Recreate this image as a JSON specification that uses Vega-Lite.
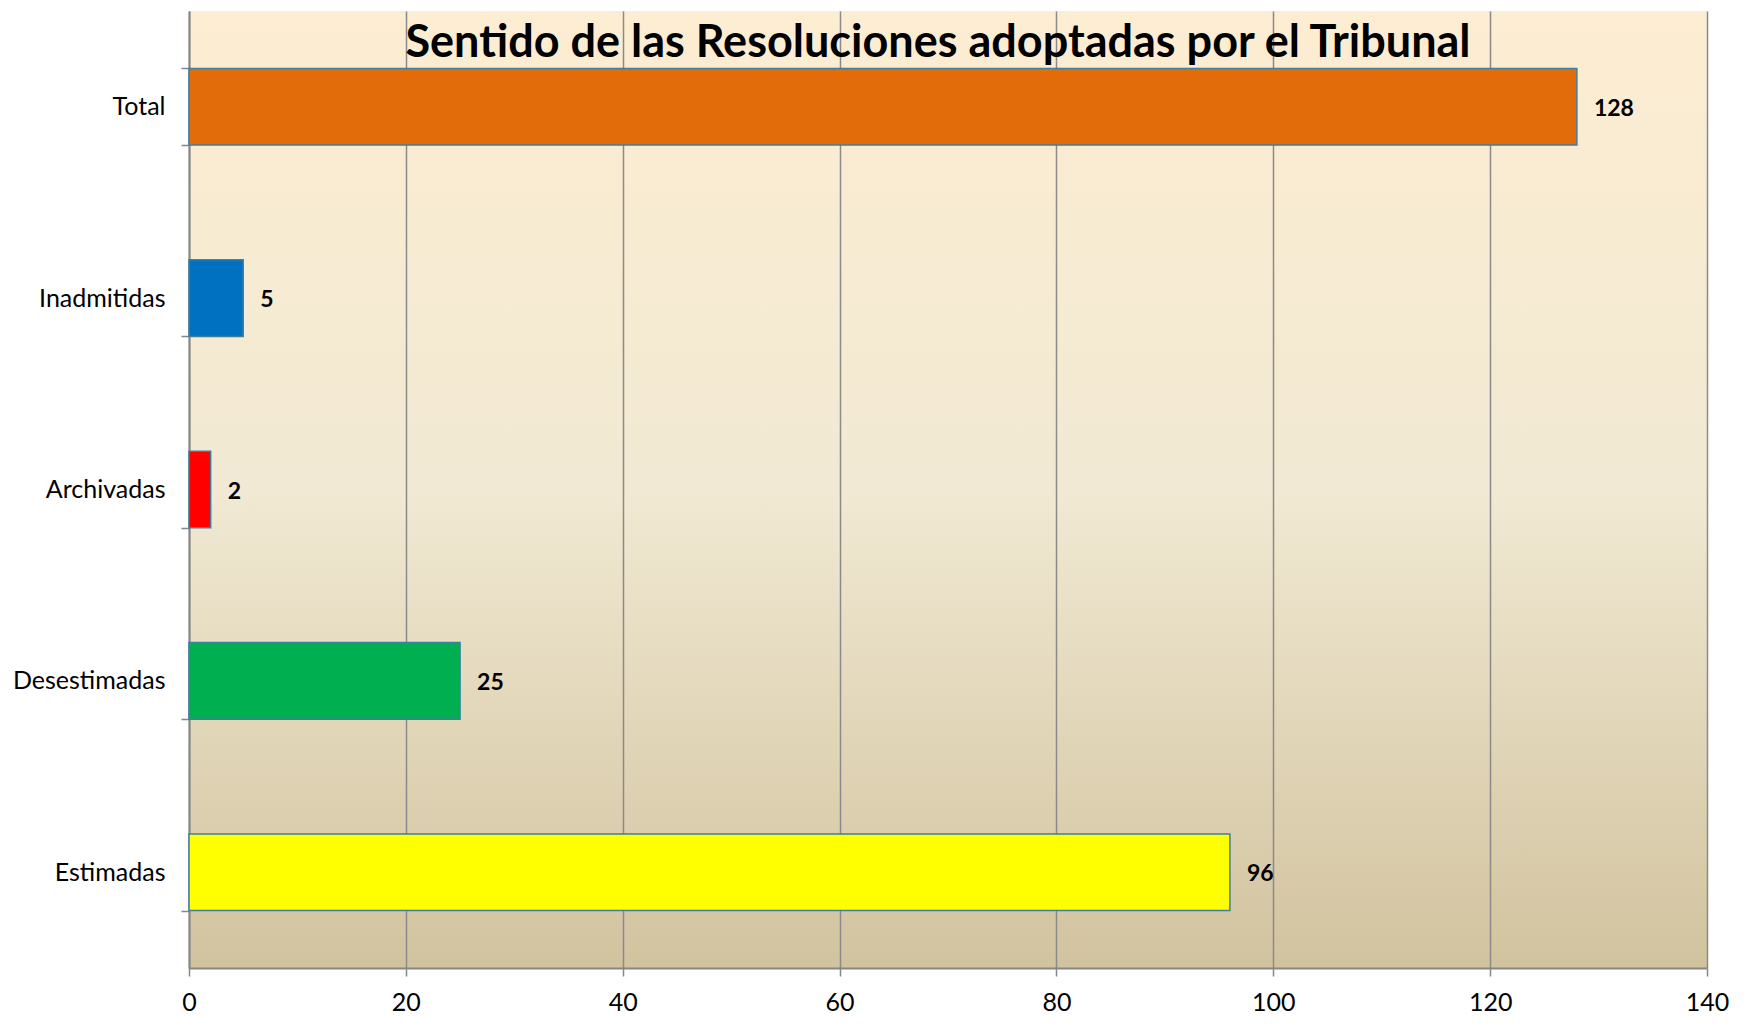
{
  "$schema": "https://vega.github.io/schema/vega-lite/v6.json",
  "width": 1518,
  "height": 957,
  "autosize": {"type": "none"},
  "padding": {"left": 189, "top": 11, "right": 51, "bottom": 64},
  "background": "white",
  "title": {
    "text": "Sentido de las Resoluciones adoptadas por el Tribunal",
    "font": "Lato",
    "fontSize": 45,
    "fontWeight": "bold",
    "color": "black",
    "anchor": "middle",
    "frame": "group",
    "baseline": "alphabetic",
    "offset": -103,
    "dx": -10
  },
  "data": {
    "values": [
      {"categoria": "Total", "valor": 128},
      {"categoria": "Inadmitidas", "valor": 5},
      {"categoria": "Archivadas", "valor": 2},
      {"categoria": "Desestimadas", "valor": 25},
      {"categoria": "Estimadas", "valor": 96}
    ]
  },
  "encoding": {
    "y": {
      "field": "categoria",
      "type": "nominal",
      "sort": ["Total", "Inadmitidas", "Archivadas", "Desestimadas", "Estimadas"],
      "scale": {"paddingInner": 0.6, "paddingOuter": 0.3},
      "axis": {
        "title": null,
        "tickBand": "extent",
        "tickSize": 8,
        "tickColor": "#868686",
        "tickWidth": 1.5,
        "domainColor": "#868686",
        "domainWidth": 2,
        "labelFont": "Lato",
        "labelFontSize": 25,
        "labelColor": "black",
        "labelPadding": 16,
        "grid": false
      }
    },
    "x": {
      "field": "valor",
      "type": "quantitative",
      "scale": {"domain": [0, 140], "nice": false},
      "axis": {
        "title": null,
        "values": [0, 20, 40, 60, 80, 100, 120, 140],
        "grid": true,
        "gridColor": "#8a8a8a",
        "gridWidth": 1.5,
        "tickSize": 8,
        "tickColor": "#868686",
        "tickWidth": 1.5,
        "domainColor": "#868686",
        "domainWidth": 2,
        "labelFont": "Lato",
        "labelFontSize": 25,
        "labelColor": "black",
        "labelPadding": 14,
        "labelFlush": false,
        "labelOverlap": false
      }
    }
  },
  "layer": [
    {
      "mark": {"type": "bar", "stroke": "#3E7FA0", "strokeWidth": 1.5},
      "encoding": {
        "color": {
          "field": "categoria",
          "type": "nominal",
          "scale": {
            "domain": ["Total", "Inadmitidas", "Archivadas", "Desestimadas", "Estimadas"],
            "range": ["#E36C0A", "#0070C0", "#FF0000", "#00B050", "#FFFF00"]
          },
          "legend": null
        }
      }
    },
    {
      "mark": {
        "type": "text",
        "align": "left",
        "baseline": "middle",
        "dx": 17,
        "dy": 2,
        "font": "Lato",
        "fontSize": 23,
        "fontWeight": "bold",
        "color": "black"
      },
      "encoding": {
        "text": {"field": "valor", "type": "quantitative"}
      }
    }
  ],
  "config": {
    "view": {
      "stroke": null,
      "fill": {
        "gradient": "linear",
        "x1": 0, "y1": 0, "x2": 0, "y2": 1,
        "stops": [
          {"offset": 0, "color": "#FDEDD2"},
          {"offset": 0.5, "color": "#F1E9D3"},
          {"offset": 1, "color": "#D2C39F"}
        ]
      }
    }
  }
}
